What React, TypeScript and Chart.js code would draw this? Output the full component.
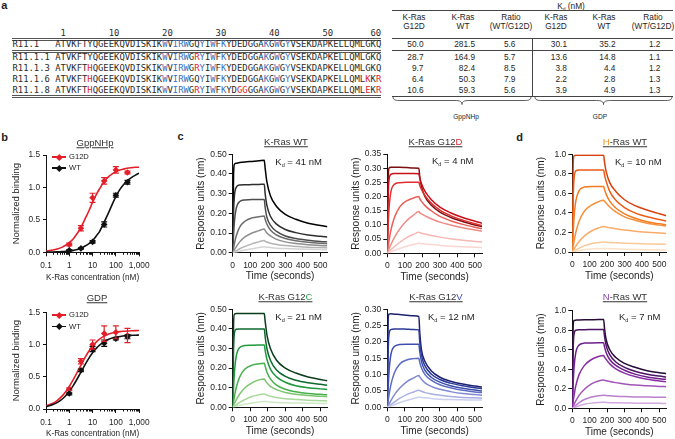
import React, { useEffect, useRef } from 'react';
import { Chart, registerables } from 'chart.js';

Chart.register(...registerables);

const FONT = '"Liberation Sans", Arial, Helvetica, sans-serif';
const MONO = '"DejaVu Sans Mono", monospace';
const TXT = '#1e1e1e';
const RED = '#e3202a';
const BLUE_AA = '#3f6fb8';
const RED_AA = '#e0242a';

// ---------------- panel a : sequences ----------------
const SEQ_NAMES = ['R11.1', 'R11.1.1', 'R11.1.3', 'R11.1.6', 'R11.1.8'];
const SEQS = [
  'ATVKFTYQGEEKQVDISKIKWVIRWGQYIWFKYDEDGGAKGWGYVSEKDAPKELLQMLGKQ',
  'ATVKFTYQGEEKQVDISKIKWVIRWGRYIWFKYDEDGGAKGWGYVSEKDAPKELLQMLGKQ',
  'ATVKFTHQGEEKQVDISKIKWVIRWGRYIWFKYDEDGGAKGWGYVSEKDAPKELLQMLGKQ',
  'ATVKFTHQGEEKQVDISKIKWVIRWGQYIWFKYDEDGGAKGWGYVSEKDAPKELLQMLKKR',
  'ATVKFTHQGEEKQVDISKIKWVIRWGRYIWFKYDGGGGAKGWGYVSEKDAPKELLQMLEKR',
];
const SEQ_RED = [[], [27], [7, 27], [7, 59, 61], [7, 27, 35, 36, 59, 61]];
const SEQ_BLUE = [21, 23, 24, 25, 28, 30, 32, 40, 42, 44];
const SEQ_RULER = ' 1' + '        ' + '10' + '        ' + '20' + '        ' + '30' + '        ' + '40' + '        ' + '50' + '       ' + '60';

// ---------------- panel a : Kd table ----------------
const KD_HEAD_1 = ['K-Ras', 'K-Ras', 'Ratio', 'K-Ras', 'K-Ras', 'Ratio'];
const KD_HEAD_2 = ['G12D', 'WT', '(WT/G12D)', 'G12D', 'WT', '(WT/G12D)'];
const KD_GPP_G12D = [50.0, 28.7, 9.7, 6.4, 10.6];
const KD_GPP_WT = [281.5, 164.9, 82.4, 50.3, 59.3];
const KD_GPP_RATIO = [5.6, 5.7, 8.5, 7.9, 5.6];
const KD_GDP_G12D = [30.1, 13.6, 3.8, 2.2, 3.9];
const KD_GDP_WT = [35.2, 14.8, 4.4, 2.8, 4.9];
const KD_GDP_RATIO = [1.2, 1.1, 1.2, 1.3, 1.3];

// ---------------- panel b ----------------
const B_CONC = [1, 3.16, 10, 31.6, 100, 316];
const GPP_G12D_MEAN = [0.12, 0.37, 0.84, 1.1, 1.27, 1.23];
const GPP_G12D_ERR = [0.02, 0.04, 0.07, 0.05, 0.05, 0.02];
const GPP_WT_MEAN = [0.03, 0.06, 0.16, 0.43, 0.88, 1.08];
const GPP_WT_ERR = [0.01, 0.01, 0.02, 0.04, 0.03, 0.03];
const GDP_G12D_MEAN = [0.31, 0.74, 1.0, 1.17, 1.19, 1.14];
const GDP_G12D_ERR = [0.02, 0.04, 0.07, 0.12, 0.1, 0.11];
const GDP_WT_MEAN = [0.24, 0.6, 0.93, 1.02, 1.09, 1.12];
const GDP_WT_ERR = [0.02, 0.02, 0.04, 0.05, 0.02, 0.03];

const FIT_CONC = [0.1, 0.2, 0.3, 0.5, 0.7, 1, 1.5, 2, 3, 5, 7, 10, 15, 20, 30, 50, 70, 100, 150, 200, 300, 500, 700, 1000];
const FIT_GPP_G12D = [0.02, 0.035, 0.05, 0.08, 0.11, 0.15, 0.21, 0.27, 0.37, 0.53, 0.64, 0.77, 0.9, 0.98, 1.08, 1.17, 1.21, 1.24, 1.27, 1.28, 1.295, 1.305, 1.31, 1.31];
const FIT_GPP_WT = [0.002, 0.004, 0.006, 0.01, 0.014, 0.02, 0.03, 0.04, 0.06, 0.1, 0.135, 0.18, 0.26, 0.32, 0.45, 0.62, 0.74, 0.86, 0.97, 1.03, 1.1, 1.16, 1.19, 1.22];
const FIT_GDP_G12D = [0.047, 0.09, 0.131, 0.203, 0.267, 0.349, 0.458, 0.542, 0.665, 0.813, 0.899, 0.976, 1.046, 1.084, 1.126, 1.162, 1.178, 1.19, 1.2, 1.205, 1.21, 1.214, 1.216, 1.217];
const FIT_GDP_WT = [0.035, 0.068, 0.099, 0.155, 0.206, 0.274, 0.367, 0.442, 0.556, 0.701, 0.789, 0.871, 0.948, 0.991, 1.039, 1.081, 1.1, 1.114, 1.124, 1.132, 1.139, 1.143, 1.145, 1.147];

const B_X_TICKS = [0.1, 1, 10, 100, 1000];
const B_X_LABELS = ['0.1', '1', '10', '100', '1,000'];
const B_Y_TICKS = [0, 0.5, 1, 1.5];

// ---------------- panels c, d : sensorgrams ----------------
const SG_TIME = [0, 5, 10, 20, 40, 70, 110, 150, 180, 185, 195, 215, 250, 300, 360, 430, 500, 540];
const SG_X_TICKS = [0, 100, 200, 300, 400, 500];

const KRAS_WT_CURVES = [
  [0, 0.40, 0.45, 0.455, 0.458, 0.461, 0.464, 0.467, 0.47, 0.43, 0.36, 0.29, 0.235, 0.195, 0.17, 0.15, 0.138, 0.132],
  [0, 0.21, 0.29, 0.332, 0.344, 0.345, 0.346, 0.347, 0.348, 0.30, 0.24, 0.185, 0.145, 0.118, 0.102, 0.09, 0.083, 0.08],
  [0, 0.09, 0.16, 0.225, 0.26, 0.268, 0.27, 0.27, 0.27, 0.23, 0.18, 0.14, 0.108, 0.085, 0.072, 0.063, 0.057, 0.055],
  [0, 0.025, 0.048, 0.085, 0.13, 0.16, 0.177, 0.183, 0.186, 0.17, 0.145, 0.115, 0.09, 0.072, 0.061, 0.053, 0.048, 0.046],
  [0, 0.008, 0.015, 0.03, 0.055, 0.08, 0.1, 0.112, 0.12, 0.113, 0.1, 0.085, 0.068, 0.055, 0.047, 0.041, 0.037, 0.035],
  [0, 0.002, 0.005, 0.01, 0.02, 0.032, 0.045, 0.055, 0.062, 0.058, 0.054, 0.048, 0.042, 0.036, 0.032, 0.028, 0.026, 0.025],
  [0, 0.001, 0.002, 0.004, 0.008, 0.014, 0.02, 0.026, 0.03, 0.029, 0.028, 0.026, 0.023, 0.021, 0.019, 0.017, 0.016, 0.015],
];
const KRAS_G12D_CURVES = [
  [0, 0.26, 0.30, 0.303, 0.303, 0.303, 0.302, 0.301, 0.30, 0.27, 0.235, 0.2, 0.17, 0.145, 0.127, 0.112, 0.1, 0.094],
  [0, 0.2, 0.26, 0.278, 0.281, 0.281, 0.281, 0.281, 0.28, 0.265, 0.245, 0.218, 0.19, 0.163, 0.143, 0.126, 0.113, 0.106],
  [0, 0.1, 0.16, 0.215, 0.243, 0.249, 0.25, 0.25, 0.25, 0.24, 0.225, 0.203, 0.177, 0.152, 0.133, 0.117, 0.104, 0.098],
  [0, 0.025, 0.045, 0.08, 0.125, 0.163, 0.185, 0.195, 0.2, 0.193, 0.183, 0.168, 0.15, 0.13, 0.115, 0.102, 0.092, 0.087],
  [0, 0.008, 0.016, 0.03, 0.055, 0.085, 0.115, 0.135, 0.147, 0.143, 0.139, 0.132, 0.122, 0.11, 0.1, 0.09, 0.082, 0.078],
  [0, 0.003, 0.006, 0.012, 0.023, 0.038, 0.055, 0.067, 0.074, 0.073, 0.071, 0.068, 0.063, 0.057, 0.051, 0.046, 0.042, 0.04],
  [0, 0.001, 0.002, 0.005, 0.01, 0.017, 0.025, 0.031, 0.035, 0.035, 0.034, 0.033, 0.031, 0.028, 0.025, 0.023, 0.021, 0.02],
];
const KRAS_G12C_CURVES = [
  [0, 0.43, 0.475, 0.478, 0.478, 0.478, 0.478, 0.478, 0.478, 0.44, 0.37, 0.3, 0.24, 0.2, 0.175, 0.155, 0.142, 0.135],
  [0, 0.3, 0.38, 0.398, 0.40, 0.40, 0.40, 0.40, 0.40, 0.36, 0.3, 0.24, 0.19, 0.158, 0.138, 0.125, 0.117, 0.113],
  [0, 0.1, 0.18, 0.26, 0.305, 0.315, 0.317, 0.318, 0.318, 0.29, 0.245, 0.195, 0.155, 0.128, 0.11, 0.1, 0.094, 0.091],
  [0, 0.03, 0.055, 0.1, 0.155, 0.195, 0.215, 0.222, 0.225, 0.21, 0.18, 0.145, 0.113, 0.092, 0.079, 0.07, 0.066, 0.064],
  [0, 0.01, 0.02, 0.038, 0.068, 0.1, 0.125, 0.14, 0.145, 0.138, 0.125, 0.107, 0.09, 0.075, 0.066, 0.06, 0.056, 0.054],
  [0, 0.003, 0.006, 0.012, 0.025, 0.04, 0.055, 0.064, 0.068, 0.066, 0.062, 0.056, 0.05, 0.044, 0.04, 0.036, 0.034, 0.033],
  [0, 0.001, 0.002, 0.005, 0.01, 0.016, 0.022, 0.027, 0.03, 0.03, 0.029, 0.027, 0.025, 0.023, 0.022, 0.021, 0.02, 0.02],
];
const KRAS_G12V_CURVES = [
  [0, 0.27, 0.285, 0.286, 0.285, 0.284, 0.282, 0.28, 0.278, 0.23, 0.175, 0.14, 0.112, 0.092, 0.08, 0.071, 0.065, 0.062],
  [0, 0.17, 0.225, 0.238, 0.24, 0.24, 0.239, 0.238, 0.237, 0.2, 0.158, 0.127, 0.102, 0.085, 0.074, 0.066, 0.06, 0.057],
  [0, 0.06, 0.11, 0.16, 0.186, 0.192, 0.193, 0.193, 0.193, 0.17, 0.14, 0.113, 0.092, 0.077, 0.066, 0.058, 0.053, 0.05],
  [0, 0.02, 0.038, 0.068, 0.105, 0.132, 0.145, 0.149, 0.15, 0.138, 0.12, 0.1, 0.083, 0.069, 0.06, 0.052, 0.047, 0.045],
  [0, 0.005, 0.01, 0.02, 0.038, 0.058, 0.078, 0.09, 0.097, 0.093, 0.086, 0.075, 0.064, 0.055, 0.048, 0.042, 0.039, 0.037],
  [0, 0.002, 0.004, 0.008, 0.016, 0.027, 0.039, 0.047, 0.052, 0.051, 0.049, 0.045, 0.041, 0.037, 0.033, 0.03, 0.029, 0.028],
  [0, 0.001, 0.002, 0.004, 0.008, 0.014, 0.021, 0.027, 0.031, 0.031, 0.03, 0.029, 0.027, 0.025, 0.024, 0.023, 0.022, 0.022],
];
const HRAS_WT_CURVES = [
  [0, 0.9, 0.985, 0.99, 0.99, 0.99, 0.99, 0.99, 0.99, 0.92, 0.82, 0.71, 0.62, 0.535, 0.475, 0.43, 0.392, 0.372],
  [0, 0.55, 0.75, 0.83, 0.84, 0.84, 0.84, 0.84, 0.84, 0.79, 0.72, 0.62, 0.53, 0.455, 0.4, 0.36, 0.333, 0.318],
  [0, 0.2, 0.35, 0.52, 0.63, 0.665, 0.67, 0.67, 0.67, 0.64, 0.59, 0.52, 0.45, 0.39, 0.345, 0.31, 0.288, 0.277],
  [0, 0.06, 0.11, 0.2, 0.32, 0.42, 0.48, 0.515, 0.53, 0.52, 0.5, 0.46, 0.41, 0.36, 0.325, 0.295, 0.275, 0.266],
  [0, 0.015, 0.03, 0.06, 0.11, 0.165, 0.215, 0.245, 0.26, 0.26, 0.255, 0.248, 0.237, 0.224, 0.212, 0.202, 0.194, 0.19],
  [0, 0.005, 0.01, 0.02, 0.04, 0.065, 0.085, 0.097, 0.102, 0.102, 0.1, 0.098, 0.095, 0.09, 0.086, 0.083, 0.08, 0.079],
  [0, 0.002, 0.004, 0.008, 0.015, 0.024, 0.031, 0.035, 0.037, 0.037, 0.036, 0.034, 0.032, 0.029, 0.026, 0.023, 0.021, 0.02],
];
const NRAS_WT_CURVES = [
  [0, 0.85, 0.9, 0.903, 0.905, 0.907, 0.908, 0.909, 0.91, 0.82, 0.7, 0.6, 0.52, 0.46, 0.42, 0.385, 0.365, 0.355],
  [0, 0.6, 0.76, 0.8, 0.805, 0.806, 0.807, 0.808, 0.808, 0.74, 0.64, 0.55, 0.475, 0.42, 0.38, 0.35, 0.33, 0.32],
  [0, 0.25, 0.42, 0.57, 0.65, 0.668, 0.67, 0.671, 0.672, 0.63, 0.57, 0.5, 0.44, 0.39, 0.35, 0.32, 0.303, 0.297],
  [0, 0.07, 0.13, 0.23, 0.35, 0.44, 0.5, 0.53, 0.54, 0.525, 0.5, 0.455, 0.405, 0.36, 0.325, 0.297, 0.28, 0.273],
  [0, 0.02, 0.04, 0.075, 0.135, 0.195, 0.25, 0.28, 0.29, 0.288, 0.283, 0.275, 0.263, 0.25, 0.238, 0.23, 0.224, 0.222],
  [0, 0.008, 0.016, 0.03, 0.058, 0.09, 0.115, 0.128, 0.133, 0.133, 0.131, 0.128, 0.124, 0.12, 0.117, 0.115, 0.114, 0.113],
  [0, 0.003, 0.007, 0.014, 0.027, 0.042, 0.053, 0.059, 0.061, 0.061, 0.06, 0.058, 0.056, 0.054, 0.053, 0.052, 0.051, 0.05],
];

const Y_TICKS_050 = [0, 0.1, 0.2, 0.3, 0.4, 0.5];
const Y_TICKS_035 = [0, 0.05, 0.1, 0.15, 0.2, 0.25, 0.3, 0.35];
const Y_TICKS_030 = [0, 0.05, 0.1, 0.15, 0.2, 0.25, 0.3];
const Y_TICKS_10 = [0, 0.2, 0.4, 0.6, 0.8, 1.0];

const C_KWT = ['#000000', '#2e2e2e', '#4d4d4d', '#6e6e6e', '#8f8f8f', '#b3b3b3', '#d4d4d4'];
const C_KD = ['#7d0c0e', '#c8101a', '#e0302e', '#eb5f58', '#f08a85', '#f6b8b4', '#fad6d3'];
const C_KC = ['#0a3d1c', '#0d6a2c', '#1e9a3c', '#45b04c', '#7dc46f', '#a9d99b', '#cde9c4'];
const C_KV = ['#1c2170', '#2b3a97', '#3f4fae', '#5b6cc2', '#8089d2', '#a7aee2', '#cbcff0'];
const C_HR = ['#d9420e', '#ec5b13', '#f37b21', '#f5913a', '#f8ac69', '#fbc899', '#fde1c6'];
const C_NR = ['#260b38', '#4b1363', '#6f1f8c', '#8a2ea3', '#a155b8', '#ba80cd', '#d2a9df'];

type Plot = { x0: number; x1: number; y0: number; y1: number };

function canvasBox(p: Plot, yW: number, xH: number) {
  const L = Math.floor(p.x0 - yW - 8);
  const T = Math.floor(p.y0 - 8);
  const R = Math.ceil(p.x1 + 10);
  const B = Math.ceil(p.y1 + xH + 8);
  return {
    L, T, W: R - L, H: B - T,
    pad: { left: p.x0 - yW - L, top: p.y0 - T, right: R - p.x1, bottom: B - p.y1 - xH },
  };
}

function axisLook(tickLen: number) {
  return {
    grid: { display: true, drawOnChartArea: false, drawTicks: true, tickLength: tickLen, color: '#111', lineWidth: 1 },
    border: { display: true, color: '#111', width: 1 },
  };
}

const errorBars = {
  id: 'errorBars',
  afterDatasetsDraw(chart: any) {
    const { ctx } = chart;
    const xs = chart.scales.x;
    const ys = chart.scales.y;
    chart.data.datasets.forEach((ds: any) => {
      if (!ds.errors) return;
      ctx.save();
      ctx.strokeStyle = ds.borderColor;
      ctx.lineWidth = 1.2;
      ds.data.forEach((p: any, i: number) => {
        const e = ds.errors[i];
        const px = xs.getPixelForValue(p.x);
        const yt = ys.getPixelForValue(p.y + e);
        const yb = ys.getPixelForValue(p.y - e);
        ctx.beginPath();
        ctx.moveTo(px, yt); ctx.lineTo(px, yb);
        ctx.moveTo(px - 3, yt); ctx.lineTo(px + 3, yt);
        ctx.moveTo(px - 3, yb); ctx.lineTo(px + 3, yb);
        ctx.stroke();
      });
      ctx.restore();
    });
  },
};

const minorLogTicks = {
  id: 'minorLogTicks',
  afterDraw(chart: any) {
    const { ctx, chartArea } = chart;
    const xs = chart.scales.x;
    ctx.save();
    ctx.strokeStyle = '#111';
    ctx.lineWidth = 1;
    for (const d of [0.1, 1, 10, 100]) {
      for (let m = 2; m <= 9; m++) {
        const px = Math.round(xs.getPixelForValue(d * m)) + 0.5;
        ctx.beginPath();
        ctx.moveTo(px, chartArea.bottom);
        ctx.lineTo(px, chartArea.bottom + 2.5);
        ctx.stroke();
      }
    }
    ctx.restore();
  },
};

function Sensorgram({ plot, yMax, yTicks, dec, curves, colors }: any) {
  const ref = useRef<HTMLCanvasElement>(null);
  const yW = 37, xH = 30;
  const box = canvasBox(plot, yW, xH);
  useEffect(() => {
    const chart = new Chart(ref.current as HTMLCanvasElement, {
      type: 'scatter',
      data: {
        datasets: curves.map((c: number[], i: number) => ({
          data: SG_TIME.map((t, j) => ({ x: t, y: c[j] })),
          showLine: true,
          borderColor: colors[i],
          backgroundColor: colors[i],
          borderWidth: 1.5,
          pointRadius: 0,
          cubicInterpolationMode: 'monotone',
        })).reverse(),
      },
      options: {
        animation: false,
        responsive: false,
        events: [],
        layout: { padding: box.pad },
        plugins: { legend: { display: false }, tooltip: { enabled: false } },
        scales: {
          x: {
            type: 'linear', min: 0, max: 540, ...axisLook(4),
            afterBuildTicks: (s: any) => { s.ticks = SG_X_TICKS.map((v) => ({ value: v })); },
            afterFit: (s: any) => { s.height = xH; },
            ticks: { autoSkip: false, maxRotation: 0, minRotation: 0, padding: 3.5, color: TXT, font: { size: 8.5, family: FONT } },
            title: { display: true, text: 'Time (seconds)', color: TXT, font: { size: 10, family: FONT }, padding: { top: 0, bottom: 0 } },
          },
          y: {
            type: 'linear', min: 0, max: yMax, ...axisLook(4),
            afterBuildTicks: (s: any) => { s.ticks = yTicks.map((v: number) => ({ value: v })); },
            afterFit: (s: any) => { s.width = yW; },
            ticks: { autoSkip: false, padding: 2, color: TXT, font: { size: 8.5, family: FONT }, callback: (v: any) => Number(v).toFixed(dec) },
            title: { display: true, text: 'Response units (nm)', color: TXT, font: { size: 10, family: FONT }, padding: { top: 0, bottom: 0 } },
          },
        },
      } as any,
    });
    return () => chart.destroy();
  }, []);
  return (
    <canvas ref={ref} width={box.W} height={box.H}
      style={{ position: 'absolute', left: box.L, top: box.T, width: box.W, height: box.H }} />
  );
}

function BindingCurve({ plot, fitG12D, fitWT, g12d, g12dErr, wt, wtErr }: any) {
  const ref = useRef<HTMLCanvasElement>(null);
  const yW = 35.4, xH = 30.5;
  const box = canvasBox(plot, yW, xH);
  useEffect(() => {
    const chart = new Chart(ref.current as HTMLCanvasElement, {
      type: 'scatter',
      data: {
        datasets: [
          { data: FIT_CONC.map((c, i) => ({ x: c, y: fitWT[i] })), showLine: true, borderColor: '#111', borderWidth: 1.6, pointRadius: 0, cubicInterpolationMode: 'monotone' },
          { data: FIT_CONC.map((c, i) => ({ x: c, y: fitG12D[i] })), showLine: true, borderColor: RED, borderWidth: 1.6, pointRadius: 0, cubicInterpolationMode: 'monotone' },
          { data: B_CONC.map((c, i) => ({ x: c, y: wt[i] })), pointStyle: 'rectRot', pointRadius: 3.3, backgroundColor: '#111', borderColor: '#111', borderWidth: 0, errors: wtErr },
          { data: B_CONC.map((c, i) => ({ x: c, y: g12d[i] })), pointStyle: 'rectRot', pointRadius: 3.3, backgroundColor: RED, borderColor: RED, borderWidth: 0, errors: g12dErr },
        ],
      },
      options: {
        animation: false,
        responsive: false,
        events: [],
        layout: { padding: box.pad },
        plugins: { legend: { display: false }, tooltip: { enabled: false } },
        scales: {
          x: {
            type: 'logarithmic', min: 0.1, max: 1000, ...axisLook(4),
            afterBuildTicks: (s: any) => { s.ticks = B_X_TICKS.map((v) => ({ value: v })); },
            afterFit: (s: any) => { s.height = xH; },
            ticks: { autoSkip: false, maxRotation: 0, minRotation: 0, padding: 4.5, color: TXT, font: { size: 8.3, family: FONT }, callback: (_v: any, i: number) => B_X_LABELS[i] },
            title: { display: true, text: 'K-Ras concentration (nM)', color: TXT, font: { size: 9.5, family: FONT }, padding: { top: 0, bottom: 0 } },
          },
          y: {
            type: 'linear', min: 0, max: 1.5, ...axisLook(3),
            afterBuildTicks: (s: any) => { s.ticks = B_Y_TICKS.map((v) => ({ value: v })); },
            afterFit: (s: any) => { s.width = yW; },
            ticks: { autoSkip: false, padding: 3, color: TXT, font: { size: 8.3, family: FONT }, callback: (v: any) => Number(v).toFixed(1) },
            title: { display: true, text: 'Normalized binding', color: TXT, font: { size: 9.5, family: FONT }, padding: { top: 0, bottom: 0 } },
          },
        },
      } as any,
      plugins: [errorBars, minorLogTicks],
    });
    return () => chart.destroy();
  }, []);
  return (
    <canvas ref={ref} width={box.W} height={box.H}
      style={{ position: 'absolute', left: box.L, top: box.T, width: box.W, height: box.H }} />
  );
}

function Txt({ x, y, size = 9, align = 'center', bold = false, font = FONT, color = TXT, children, style }: any) {
  const tx = align === 'center' ? '-50%' : align === 'right' ? '-100%' : '0';
  return (
    <div style={{
      position: 'absolute', left: x, top: y, transform: `translate(${tx}, -50%)`,
      fontFamily: font, fontSize: size, lineHeight: 1, whiteSpace: 'pre', color,
      fontWeight: bold ? 'bold' : 'normal', ...style,
    }}>{children}</div>
  );
}

function HLine({ x1, x2, y, double = false, color = '#555' }: any) {
  return (
    <>
      <div style={{ position: 'absolute', left: x1, top: y, width: x2 - x1, height: 1, background: color }} />
      {double && <div style={{ position: 'absolute', left: x1, top: y + 2, width: x2 - x1, height: 1, background: color }} />}
    </>
  );
}

function Title({ x, y, pre, hi, post = '', hiColor }: any) {
  return (
    <Txt x={x} y={y} size={9.5} color="#333" style={{ textDecoration: 'underline' }}>
      {pre}<span style={{ color: hiColor }}>{hi}</span>{post}
    </Txt>
  );
}

function KdLabel({ x, y, value }: any) {
  return (
    <div style={{ position: 'absolute', left: x, top: y, transform: 'translateY(-50%)', fontFamily: FONT, fontSize: 9.5, lineHeight: 1, whiteSpace: 'pre', color: TXT }}>
      K<span style={{ fontSize: 5.5, position: 'relative', top: 2 }}>d</span>{` = ${value} nM`}
    </div>
  );
}

function Legend({ y, label, color }: any) {
  return (
    <>
      <div style={{ position: 'absolute', left: 52, top: y - 0.7, width: 14, height: 1.4, background: color }} />
      <div style={{ position: 'absolute', left: 59 - 2.3, top: y - 2.3, width: 4.6, height: 4.6, background: color, transform: 'rotate(45deg)' }} />
      <Txt x={69} y={y} size={7.6} align="left">{label}</Txt>
    </>
  );
}

function bracePath(x1: number, x2: number, y: number, h: number) {
  const m = (x1 + x2) / 2;
  const yh = y + h * 0.5;
  return `M${x1},${y} C${x1},${yh} ${x1 + 3},${yh} ${x1 + 8},${yh} L${m - 7},${yh} C${m - 2},${yh} ${m},${yh + 1} ${m},${y + h} C${m},${yh + 1} ${m + 2},${yh} ${m + 7},${yh} L${x2 - 8},${yh} C${x2 - 3},${yh} ${x2},${yh} ${x2},${y}`;
}

function SeqRow({ y, name, seq, reds }: any) {
  return (
    <div style={{ position: 'absolute', left: 12.5, top: y, transform: 'translateY(-50%)', fontFamily: MONO, fontSize: 8.9, lineHeight: 1, whiteSpace: 'pre', color: '#2a2a2a' }}>
      {name.padEnd(8, ' ')}
      {seq.split('').map((ch: string, i: number) => {
        const pos = i + 1;
        const col = reds.includes(pos) ? RED_AA : SEQ_BLUE.includes(pos) ? BLUE_AA : undefined;
        return col ? <span key={i} style={{ color: col }}>{ch}</span> : <span key={i}>{ch}</span>;
      })}
    </div>
  );
}

export default function App() {
  const rowY = [44.3, 56.6, 67.6, 78.6, 89.6];
  const colCenters = [414, 463, 511, 556, 604, 653];
  const colRights = [423.5, 475, 515.5, 567, 615.5, 660.5];
  const kdCols = [KD_GPP_G12D, KD_GPP_WT, KD_GPP_RATIO, KD_GDP_G12D, KD_GDP_WT, KD_GDP_RATIO];
  return (
    <div style={{ position: 'absolute', left: 0, top: 0, width: 675, height: 439, overflow: 'hidden', background: '#fff' }}>
      {/* panel letters */}
      <Txt x={4.3} y={4.6} size={11} bold>a</Txt>
      <Txt x={4.5} y={137} size={11} bold>b</Txt>
      <Txt x={180.5} y={135.6} size={11} bold>c</Txt>
      <Txt x={519.5} y={137} size={11} bold>d</Txt>

      {/* panel a: sequences */}
      <div style={{ position: 'absolute', left: 12.5, top: 33, transform: 'translateY(-50%)', fontFamily: MONO, fontSize: 8.9, lineHeight: 1, whiteSpace: 'pre', color: '#2a2a2a' }}>
        {'        ' + SEQ_RULER}
      </div>
      <HLine x1={12} x2={381} y={38.3} double />
      <HLine x1={12} x2={381} y={49.6} double />
      <HLine x1={12} x2={381} y={95} double />
      {SEQ_NAMES.map((n, i) => (
        <SeqRow key={n} y={rowY[i] + (i === 0 ? 0 : 0.4)} name={n} seq={SEQS[i]} reds={SEQ_RED[i]} />
      ))}

      {/* panel a: Kd table */}
      <Txt x={571} y={5.5} size={8.3}>K<span style={{ fontSize: 5, position: 'relative', top: 2 }}>d</span> (nM)</Txt>
      <HLine x1={392} x2={673} y={9.6} color="#444" />
      {KD_HEAD_1.map((h, i) => (
        <React.Fragment key={i}>
          <Txt x={colCenters[i]} y={17} size={8.3}>{h}</Txt>
          <Txt x={colCenters[i]} y={26} size={8.3}>{KD_HEAD_2[i]}</Txt>
        </React.Fragment>
      ))}
      <HLine x1={392} x2={673} y={38} color="#444" />
      <HLine x1={392} x2={673} y={49.8} color="#444" />
      <HLine x1={392} x2={673} y={95.6} color="#444" />
      <div style={{ position: 'absolute', left: 532, top: 38, width: 1, height: 58, background: '#444' }} />
      {kdCols.map((col, ci) => col.map((v, ri) => (
        <Txt key={`${ci}-${ri}`} x={colRights[ci]} y={rowY[ri]} size={8.3} align="right">{v.toFixed(1)}</Txt>
      )))}
      <svg style={{ position: 'absolute', left: 0, top: 0 }} width={675} height={130}>
        <path d={bracePath(393, 531, 96.5, 8)} fill="none" stroke="#333" strokeWidth={0.8} />
        <path d={bracePath(535, 672, 96.5, 8)} fill="none" stroke="#333" strokeWidth={0.8} />
      </svg>
      <Txt x={466} y={116.7} size={6.6}>GppNHp</Txt>
      <Txt x={600} y={116.7} size={6.6}>GDP</Txt>

      {/* panel b */}
      <BindingCurve plot={{ x0: 46, x1: 144, y0: 155, y1: 252.3 }}
        fitG12D={FIT_GPP_G12D} fitWT={FIT_GPP_WT}
        g12d={GPP_G12D_MEAN} g12dErr={GPP_G12D_ERR} wt={GPP_WT_MEAN} wtErr={GPP_WT_ERR} />
      <BindingCurve plot={{ x0: 46, x1: 144, y0: 312.3, y1: 409 }}
        fitG12D={FIT_GDP_G12D} fitWT={FIT_GDP_WT}
        g12d={GDP_G12D_MEAN} g12dErr={GDP_G12D_ERR} wt={GDP_WT_MEAN} wtErr={GDP_WT_ERR} />
      <Title x={95} y={143} pre="GppNHp" hi="" />
      <Title x={97} y={297.5} pre="GDP" hi="" />
      <Legend y={157} label="G12D" color={RED} />
      <Legend y={168} label="WT" color="#111" />
      <Legend y={315} label="G12D" color={RED} />
      <Legend y={326.7} label="WT" color="#111" />

      {/* panel c */}
      <Sensorgram plot={{ x0: 232.7, x1: 327.4, y0: 154.3, y1: 252.7 }} yMax={0.5} yTicks={Y_TICKS_050} dec={2} curves={KRAS_WT_CURVES} colors={C_KWT} />
      <Sensorgram plot={{ x0: 387.3, x1: 482, y0: 154, y1: 253.3 }} yMax={0.35} yTicks={Y_TICKS_035} dec={2} curves={KRAS_G12D_CURVES} colors={C_KD} />
      <Sensorgram plot={{ x0: 232.7, x1: 327.4, y0: 309.3, y1: 407.3 }} yMax={0.5} yTicks={Y_TICKS_050} dec={2} curves={KRAS_G12C_CURVES} colors={C_KC} />
      <Sensorgram plot={{ x0: 387.3, x1: 482, y0: 309.3, y1: 407.3 }} yMax={0.3} yTicks={Y_TICKS_030} dec={2} curves={KRAS_G12V_CURVES} colors={C_KV} />
      <Title x={286} y={142} pre="K-Ras WT" hi="" />
      <Title x={435.5} y={142.3} pre="K-Ras G12" hi="D" hiColor="#e1252b" />
      <Title x={285.5} y={297} pre="K-Ras G12" hi="C" hiColor="#2aa44a" />
      <Title x={436} y={296.5} pre="K-Ras G12" hi="V" hiColor="#3b4cc0" />
      <KdLabel x={275.3} y={162} value={41} />
      <KdLabel x={432} y={161} value={4} />
      <KdLabel x={275.3} y={317} value={21} />
      <KdLabel x={428} y={316.5} value={12} />

      {/* panel d */}
      <Sensorgram plot={{ x0: 572.3, x1: 666.3, y0: 154.3, y1: 252 }} yMax={1.0} yTicks={Y_TICKS_10} dec={1} curves={HRAS_WT_CURVES} colors={C_HR} />
      <Sensorgram plot={{ x0: 572.3, x1: 666.3, y0: 310.7, y1: 408.3 }} yMax={1.0} yTicks={Y_TICKS_10} dec={1} curves={NRAS_WT_CURVES} colors={C_NR} />
      <Title x={625} y={141.7} pre="" hi="H" post="-Ras WT" hiColor="#f39322" />
      <Title x={625} y={297.3} pre="" hi="N" post="-Ras WT" hiColor="#8e44ad" />
      <KdLabel x={615} y={162} value={10} />
      <KdLabel x={619} y={317} value={7} />
    </div>
  );
}
